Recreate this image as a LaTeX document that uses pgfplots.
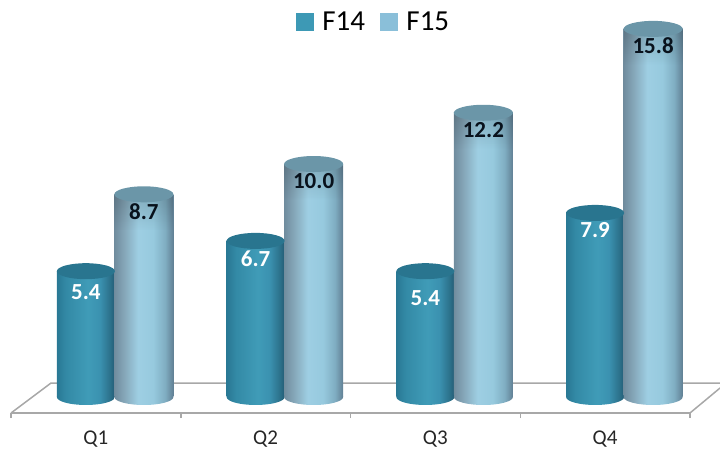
\documentclass[border=0pt]{standalone}
\usepackage{fontspec}
\setmainfont{Carlito}
\usepackage{pgfplots}
\usepackage{pgfplotstable}
\usetikzlibrary{fadings}
\pgfplotsset{compat=1.18}

% Quarter index, value, printed label, label offset below the cap
\pgfplotstableread{
q v lab off
0 5.4 5.4 -21
1 6.7 6.7 -18
2 5.4 5.4 -27
3 7.9 7.9 -17
}\fyfourteen
\pgfplotstableread{
q v lab off
0 8.7 8.7 -17
1 10.0 10.0 -17
2 12.2 12.2 -17
3 15.8 15.8 -17
}\fyfifteen

% Cylinder body shadings, left to right
\pgfdeclarehorizontalshading{cylA}{100bp}{
  rgb(0bp)=(0.16,0.47,0.58); rgb(25bp)=(0.16,0.47,0.58);
  rgb(33bp)=(0.20,0.54,0.65); rgb(52bp)=(0.25,0.61,0.72);
  rgb(62bp)=(0.23,0.57,0.69); rgb(71bp)=(0.17,0.44,0.54);
  rgb(75bp)=(0.14,0.36,0.46); rgb(100bp)=(0.14,0.36,0.46)}
\pgfdeclarehorizontalshading{cylB}{100bp}{
  rgb(0bp)=(0.44,0.55,0.62); rgb(25bp)=(0.44,0.55,0.62);
  rgb(33bp)=(0.52,0.65,0.72); rgb(45bp)=(0.62,0.81,0.89);
  rgb(58bp)=(0.59,0.79,0.87); rgb(68bp)=(0.50,0.68,0.76);
  rgb(75bp)=(0.38,0.50,0.58); rgb(100bp)=(0.38,0.50,0.58)}

\definecolor{capA}{rgb}{0.16,0.46,0.56}
\definecolor{capB}{rgb}{0.42,0.59,0.66}
\definecolor{keyA}{rgb}{0.24,0.60,0.71}
\definecolor{keyB}{rgb}{0.54,0.75,0.85}
\definecolor{floorline}{rgb}{0.66,0.66,0.66}
\definecolor{labeldark}{rgb}{0.04,0.08,0.12}

% Caps and rounded feet of the cylinders, offset like the bars;
% the lighter cylinders carry a soft shadow under the cap
\pgfdeclareplotmark{footA}{\shade[shading=cylA, draw=none] (-10pt,0pt) ellipse [x radius=29pt,y radius=8pt];}
\pgfdeclareplotmark{footB}{\shade[shading=cylB, draw=none] (48pt,0pt) ellipse [x radius=29.5pt,y radius=8pt];}
\pgfdeclareplotmark{capA}{\fill[capA, draw=none] (-10pt,0pt) ellipse [x radius=29pt,y radius=8pt];}
\pgfdeclareplotmark{capB}{%
  \fill[black, draw=none, opacity=0.16, path fading=south] (18.5pt,0pt) rectangle (77.5pt,-36pt);
  \fill[capB, draw=none] (48pt,0pt) ellipse [x radius=29.5pt,y radius=8pt];}

% One cylinder body per row, so that each one carries the full shading:
% arguments are row, next row, table, shading, width, shift, label colour
\newcommand{\cylinderbody}[7]{%
  \addplot[forget plot, ybar, bar width=#5pt, bar shift=#6pt, draw=none, shade, shading=#4,
    skip coords between index={0}{#1}, skip coords between index={#2}{4},
    point meta=explicit symbolic,
    visualization depends on={\thisrow{off} \as \lblshift},
    nodes near coords={\pgfplotspointmeta},
    every node near coord/.append style={anchor=center, xshift=#6pt, yshift=\lblshift pt, text=#7,
      font=\fontsize{23}{25}\selectfont\bfseries}]
    table[x=q, y=v, meta=lab] {#3};}

\begin{document}
\begin{tikzpicture}
\useasboundingbox (-11pt,-37pt) rectangle (709pt,413pt);
\begin{axis}[
  scale only axis, width=679pt, height=413pt,
  anchor=south west, at={(0pt,0pt)},
  clip=false,
  xmin=-0.5, xmax=3.5, ymin=-0.687, ymax=17.04,
  axis x line*=bottom, axis y line=none,
  axis line style={-, draw=floorline, line width=1.5pt},
  xtick={0,1,2,3}, xticklabels={Q1,Q2,Q3,Q4},
  minor xtick={-0.5,0.5,1.5,2.5,3.5},
  major tick length=0pt, minor tick length=5pt,
  tick align=outside,
  minor tick style={draw=floorline, line width=1.5pt},
  xticklabel style={font=\fontsize{21}{23}\selectfont, text=black!85, yshift=-14pt},
  legend style={at={(0.534,0.947)}, anchor=center, draw=none, fill=none,
    font=\fontsize{29}{31}\selectfont, inner sep=0pt,
    /tikz/every odd column/.append style={column sep=7pt},
    /tikz/every even column/.append style={column sep=13pt}},
  legend columns=2,
]
% Floor of the chart
\addplot[forget plot, floorline, line width=1.5pt] coordinates {(-0.5,-0.687) (-0.264,0.6) (3.677,0.6)};
\addplot[forget plot, floorline, line width=1.5pt] coordinates {(3.5,-0.687) (3.677,0.386)};

% F14
\addplot[forget plot, only marks, mark=footA] table[x=q, y expr=0] {\fyfourteen};
\cylinderbody{0}{1}{\fyfourteen}{cylA}{58}{-10}{white}
\cylinderbody{1}{2}{\fyfourteen}{cylA}{58}{-10}{white}
\cylinderbody{2}{3}{\fyfourteen}{cylA}{58}{-10}{white}
\cylinderbody{3}{4}{\fyfourteen}{cylA}{58}{-10}{white}
\addplot[forget plot, only marks, mark=capA] table[x=q, y=v] {\fyfourteen};

% F15
\addplot[forget plot, only marks, mark=footB] table[x=q, y expr=0] {\fyfifteen};
\cylinderbody{0}{1}{\fyfifteen}{cylB}{59}{48}{labeldark}
\cylinderbody{1}{2}{\fyfifteen}{cylB}{59}{48}{labeldark}
\cylinderbody{2}{3}{\fyfifteen}{cylB}{59}{48}{labeldark}
\cylinderbody{3}{4}{\fyfifteen}{cylB}{59}{48}{labeldark}
\addplot[forget plot, only marks, mark=capB] table[x=q, y=v] {\fyfifteen};

% Legend keys
\addlegendimage{legend image code/.code={\fill[keyA] (0pt,-8.5pt) rectangle (17pt,8.5pt);}}
\addlegendentry{F14}
\addlegendimage{legend image code/.code={\fill[keyB] (0pt,-8.5pt) rectangle (17pt,8.5pt);}}
\addlegendentry{F15}
\end{axis}
\end{tikzpicture}
\end{document}
